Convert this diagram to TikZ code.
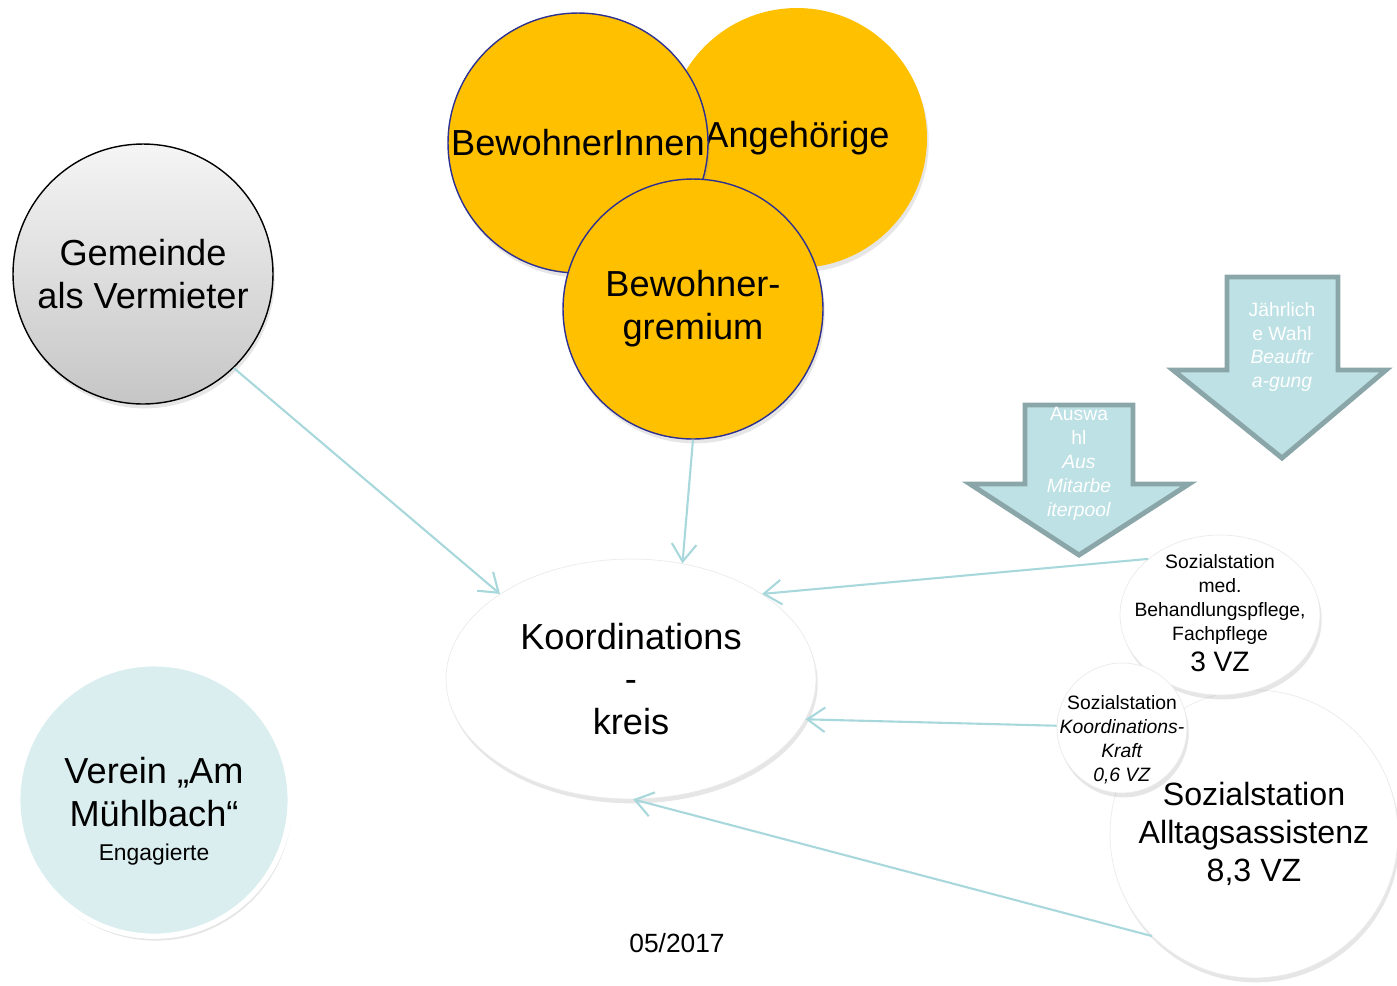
\documentclass[tikz,border=0pt]{standalone}
\usepackage{fontspec}
\setmainfont{Liberation Sans}
\usetikzlibrary{shapes.geometric,shadows,arrows.meta}
\definecolor{gelb}{HTML}{FFC000}
\definecolor{kreisrand}{RGB}{46,49,146}
\definecolor{pfeil}{HTML}{A8D8DC}
\definecolor{blockfill}{HTML}{BDE1E4}
\definecolor{blockrand}{HTML}{8BA6A8}
\definecolor{vereinfill}{HTML}{DAEEF0}
\tikzset{
  schatten/.style={drop shadow={opacity=0.2,shadow xshift=1pt,shadow yshift=-2.5pt}},
  gross/.style={font=\fontsize{20.6}{24.4}\selectfont,align=center},
  klein/.style={font=\fontsize{11}{13.6}\selectfont,align=center},
  gelbkreis/.style={circle,fill=gelb,minimum size=5.2cm,inner sep=0pt,schatten,gross},
  weiss/.style={fill=white,draw=black!8,schatten},
  verbindung/.style={draw=pfeil,line width=1.2pt,-{Straight Barb[length=10pt,width=14pt]}},
  blockpfeil/.style={fill=blockfill,draw=blockrand,line width=2.8pt,line join=miter},
  blocktext/.style={klein,text=white}
}
\begin{document}
\begin{tikzpicture}[x=0.02cm,y=-0.02cm]
    \useasboundingbox (0,0) rectangle (1397,985);
    % Bewohner
    \node[gelbkreis] (angeh) at (797,138) {Angehörige};
    \node[gelbkreis,draw=kreisrand,line width=0.8pt] (bewohner) at (578,143) {BewohnerInnen};
    \node[gelbkreis,draw=kreisrand,line width=0.8pt] (gremium) at (693,309) {Bewohner-\\gremium};
    % Gemeinde und Verein
    \node[circle,draw=black,line width=0.8pt,top color=gray!8,bottom color=gray!45,
          minimum size=5.2cm,schatten,gross] (gemeinde) at (143,274) {Gemeinde\\als Vermieter};
    \node[circle,fill=vereinfill,draw=white,line width=3pt,minimum size=5.45cm,schatten] (verein) at (154,800) {};
    \node[gross] (vereintext) at (154,811) {Verein „Am\\Mühlbach“\\[-5pt]{\fontsize{13}{15}\selectfont Engagierte}};
    % Koordinationskreis
    \node[ellipse,weiss,minimum width=7.4cm,minimum height=4.8cm,gross] (koord) at (631,679) {Koordinations\\-\\kreis};
    % Sozialstation
    \node[circle,weiss,minimum size=5.76cm,font=\fontsize{18.3}{21.8}\selectfont,align=center] (alltag) at (1254,834)
        {Sozialstation\\Alltagsassistenz\\8,3 VZ};
    \node[ellipse,weiss,minimum width=4cm,minimum height=3.2cm] (med) at (1220,615) {};
    \node[klein] (medtext) at (1220,613) {Sozialstation\\med.\\Behandlungspflege,\\Fachpflege\\[4pt]{\fontsize{16}{18}\selectfont 3 VZ}};
    \node[circle,weiss,minimum size=2.6cm] (kraft) at (1122,728) {};
    \node[klein] (krafttext) at (1122,740) {Sozialstation\\\textit{Koordinations-}\\\textit{Kraft}\\\textit{0,6 VZ}};
    % Blockpfeile
    \draw[blockpfeil] (1227,277) -- (1338,277) -- (1338,370) -- (1386,370) -- (1282,458) -- (1173,370) -- (1227,370) -- cycle;
    \node[blocktext] (wahl) at (1282,347) {Jährlich\\e Wahl\\\textit{Beauftr}\\\textit{a-gung}};
    \draw[blockpfeil] (1025,405) -- (1133,405) -- (1133,484) -- (1189,484) -- (1079,555) -- (970,484) -- (1025,484) -- cycle;
    \node[blocktext] (auswahl) at (1079,464) {Auswa\\hl\\\textit{Aus}\\\textit{Mitarbe}\\\textit{iterpool}};
    % Verbindungen
    \draw[verbindung] (gemeinde.-46) -- (koord.147);
    \draw[verbindung] (gremium.south) -- (koord.66);
    \draw[verbindung] (med.142) -- (koord.33);
    \draw[verbindung] (kraft.178) -- (koord.-13);
    \draw[verbindung] (alltag.-135) -- (koord.-89);
    \node[font=\fontsize{15}{18}\selectfont] (datum) at (677,943) {05/2017};
\end{tikzpicture}
\end{document}
